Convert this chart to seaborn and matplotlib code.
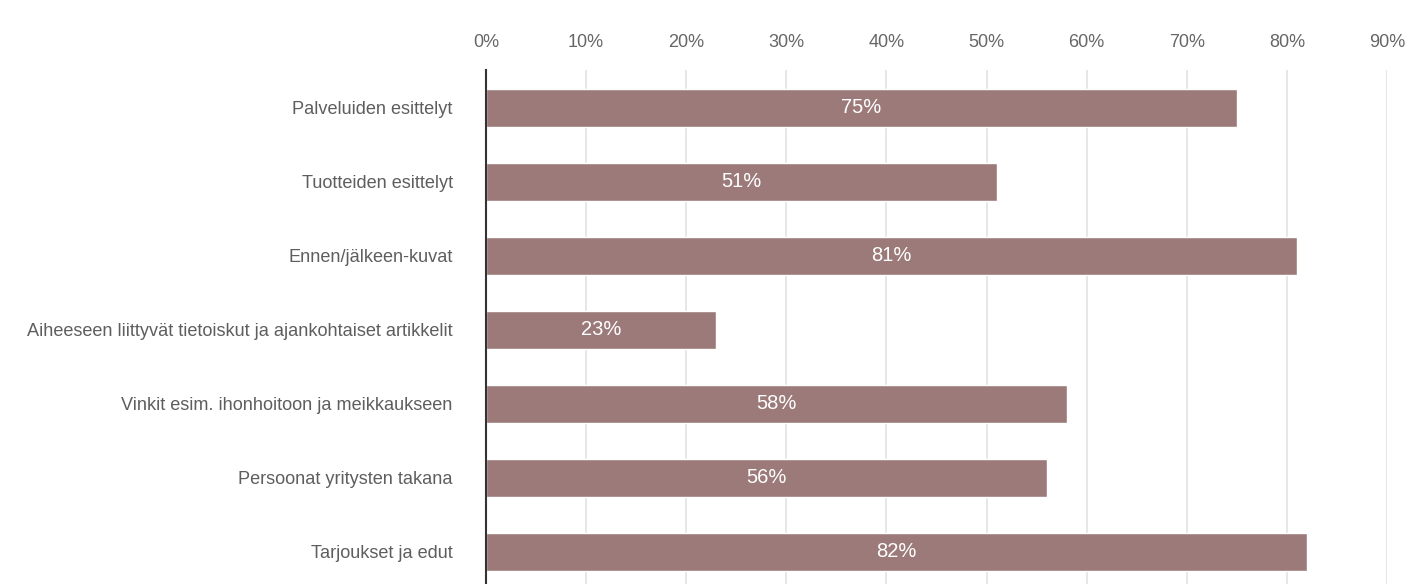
import matplotlib
matplotlib.use("Agg")
import matplotlib.pyplot as plt
import seaborn as sns
import pandas as pd

categories = [
    "Palveluiden esittelyt",
    "Tuotteiden esittelyt",
    "Ennen/jälkeen-kuvat",
    "Aiheeseen liittyvät tietoiskut ja ajankohtaiset artikkelit",
    "Vinkit esim. ihonhoitoon ja meikkaukseen",
    "Persoonat yritysten takana",
    "Tarjoukset ja edut",
]
values = [75, 51, 81, 23, 58, 56, 82]
tick_values = [0, 10, 20, 30, 40, 50, 60, 70, 80, 90]

sns.set_theme(style="white")
plt.rcParams["font.family"] = ["Liberation Sans", "DejaVu Sans"]

df = pd.DataFrame({"category": categories, "value": values})

W, H = 1405, 584
fig = plt.figure(figsize=(W / 100, H / 100), dpi=100)
left, right = 486 / W, 1387 / W
top, bottom = 1 - 70 / H, -5 / H
ax = fig.add_axes([left, bottom, right - left, top - bottom])

bar_color = "#9b7a79"
sns.barplot(data=df, y="category", x="value", orient="h", color=bar_color,
            width=0.51, ax=ax, saturation=1, zorder=3)

ax.set_xlim(0, 90)
ax.set_ylim(6.5, -0.51)
ax.set_xticks(tick_values)
ax.set_xticklabels([f"{v}%" for v in tick_values])
ax.xaxis.tick_top()
ax.tick_params(axis="x", length=0, pad=14, labelsize=13, labelcolor="#666666")
ax.tick_params(axis="y", length=0, pad=24, labelsize=13.1, labelcolor="#5e5e5e")
ax.set_xlabel("")
ax.set_ylabel("")
ax.grid(axis="x", color="#e3e3e3", linewidth=1.2, zorder=0)
ax.set_axisbelow(True)
for s in ["top", "right", "bottom"]:
    ax.spines[s].set_visible(False)
ax.spines["left"].set_color("#333333")
ax.spines["left"].set_linewidth(1.5)
ax.spines["left"].set_zorder(5)

for patch, v in zip(ax.patches, values):
    cy = patch.get_y() + patch.get_height() / 2
    ax.text(v / 2, cy, f"{v}%", ha="center", va="center", color="white",
            fontsize=14.5, zorder=6)

fig.savefig("out.png", dpi=100, facecolor="white")
